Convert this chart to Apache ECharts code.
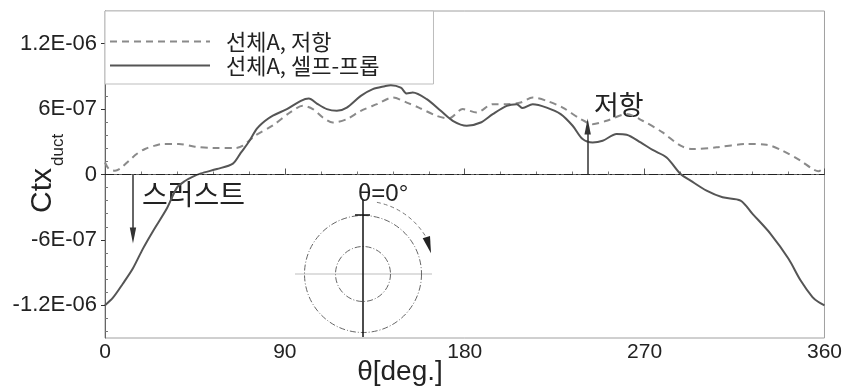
<!DOCTYPE html>
<html>
<head>
<meta charset="utf-8">
<script src="https://cdn.jsdelivr.net/npm/echarts@6/dist/echarts.min.js"></script>
<style>
  html, body { margin: 0; padding: 0; background: #fff; }
  #chart { width: 845px; height: 388px; }
</style>
</head>
<body>
<div id="chart"></div>
<script>
// Duct thrust coefficient around the circumference (theta in degrees)
const angleResist = [0, 2, 5, 8, 12, 16, 20, 25, 29, 37, 45, 54, 65, 69, 75, 84, 93, 99, 104, 109, 114, 121, 128, 136, 144, 151, 157, 166, 172, 179, 186, 194, 201, 208, 214, 221, 229, 238, 244, 251, 261, 269, 279, 288, 294, 306, 321, 331, 339, 348, 354, 357, 360];
const ctxResist = [1.1e-7, 5.0e-8, 3.5e-8, 6.0e-8, 1.27e-7, 1.9e-7, 2.34e-7, 2.65e-7, 2.8e-7, 2.8e-7, 2.55e-7, 2.43e-7, 2.43e-7, 2.64e-7, 3.55e-7, 4.5e-7, 5.75e-7, 6.3e-7, 6.0e-7, 5.23e-7, 4.77e-7, 5.08e-7, 5.84e-7, 6.45e-7, 7.06e-7, 6.6e-7, 6.14e-7, 5.38e-7, 5.15e-7, 6.0e-7, 5.69e-7, 6.45e-7, 6.45e-7, 6.6e-7, 7.06e-7, 6.76e-7, 6.14e-7, 5.08e-7, 4.62e-7, 4.93e-7, 5.54e-7, 4.93e-7, 3.86e-7, 2.64e-7, 2.34e-7, 2.49e-7, 2.8e-7, 2.73e-7, 2.18e-7, 1.27e-7, 5.1e-8, 3.0e-8, 7.0e-8];

const angleSelf = [0, 4, 9, 14, 19, 24, 31, 36, 40, 44, 48, 56, 64, 68, 72, 76, 80, 84, 91, 98, 102, 106, 111, 116, 121, 128, 134, 140, 143, 148, 151, 154, 161, 168, 174, 181, 188, 194, 201, 206, 209, 214, 221, 228, 234, 239, 244, 249, 256, 261, 268, 274, 281, 288, 293, 301, 309, 318, 324, 333, 342, 348, 354, 357, 360];
const ctxSelf = [-1.2e-6, -1.13e-6, -1.0e-6, -8.6e-7, -6.8e-7, -5.2e-7, -3.1e-7, -1.2e-7, -6.0e-8, -2.0e-8, 1.0e-8, 5.0e-8, 1.0e-7, 2.0e-7, 3.0e-7, 4.2e-7, 4.9e-7, 5.4e-7, 6.0e-7, 6.76e-7, 6.97e-7, 6.51e-7, 6.0e-7, 5.84e-7, 6.14e-7, 7.21e-7, 7.83e-7, 8.1e-7, 8.19e-7, 7.97e-7, 7.43e-7, 7.52e-7, 6.91e-7, 5.84e-7, 4.93e-7, 4.47e-7, 4.77e-7, 5.54e-7, 6.3e-7, 6.45e-7, 6.09e-7, 6.45e-7, 6.14e-7, 5.54e-7, 4.47e-7, 3.25e-7, 2.94e-7, 3.1e-7, 3.71e-7, 3.65e-7, 2.94e-7, 2.25e-7, 1.57e-7, 5.0e-9, -5.6e-8, -1.48e-7, -2.09e-7, -2.39e-7, -3.61e-7, -5.44e-7, -7.73e-7, -9.7e-7, -1.124e-6, -1.17e-6, -1.2e-6];

const seriesNames = ['선체A, 저항', '선체A, 셀프-프롭'];
const xTickValues = [0, 90, 180, 270, 360];
const yTickValues = [-1.2e-6, -6e-7, 0, 6e-7, 1.2e-6];

// Annotation arrows: [theta, from, to]
const thrustArrow = [14, 0, -5.6e-7];
const resistArrow = [241.5, 0, 4.4e-7];

const FONT = 'Liberation Sans, Arial, sans-serif';
const KFONT = 'Noto Sans CJK KR, sans-serif';

// minor y ticks every 1.2E-07, skipping the labelled ones
const yMinor = [];
for (let k = -12; k <= 12; k++) {
  if (k % 5 !== 0) yMinor.push(k * 1.2e-7);
}

function sciLabel(v) {
  if (Math.abs(v) < 1e-12) return '0';
  const s = v.toExponential();
  return s.replace(/e([+-])(\d+)$/, function (m, sign, d) {
    return 'E' + sign + (d.length < 2 ? '0' + d : d);
  });
}

function pairs(xs, ys) {
  return xs.map(function (x, i) { return [x, ys[i]]; });
}

const arrowHead = 'path://M3,0 L6,15 L0,15 Z';

const chart = echarts.init(document.getElementById('chart'), null, { renderer: 'canvas' });

const option = {
  animation: false,
  backgroundColor: '#fff',
  grid: {
    left: 105, right: 20, top: 11, bottom: 50,
    show: true, borderColor: '#a0a0a0', borderWidth: 1, backgroundColor: 'transparent'
  },
  legend: {
    orient: 'vertical',
    left: 105, top: 11,
    backgroundColor: '#fff',
    borderColor: '#bdbdbd', borderWidth: 1, borderRadius: 0,
    padding: [19, 54, 7, 4],
    itemGap: 1,
    itemWidth: 100, itemHeight: 14,
    itemStyle: { opacity: 0 },
    data: seriesNames,
    textStyle: { fontFamily: KFONT, fontSize: 22, color: '#222', padding: [0, 0, 0, 11], lineHeight: 23 }
  },
  xAxis: {
    type: 'value', min: 0, max: 360, interval: 90,
    axisLine: { show: true, lineStyle: { color: '#666', width: 1 } },
    axisTick: { show: true, inside: true, length: 6, lineStyle: { color: '#555' } },
    minorTick: { show: true, splitNumber: 5, length: 3, lineStyle: { color: '#777' } },
    splitLine: { show: false },
    axisLabel: { fontFamily: FONT, fontSize: 21, color: '#222', margin: 4, customValues: xTickValues }
  },
  yAxis: [{
    type: 'value', min: -1.5e-6, max: 1.5e-6, interval: 3e-7,
    axisLine: { show: true, lineStyle: { color: '#666', width: 1 } },
    axisTick: { show: true, length: 4, lineStyle: { color: '#333' }, customValues: yTickValues },
    splitLine: { show: false },
    axisLabel: { fontFamily: FONT, fontSize: 22, color: '#222', margin: 8, customValues: yTickValues, formatter: sciLabel }
  }, {
    type: 'value', min: -1.5e-6, max: 1.5e-6, interval: 3e-7, position: 'left',
    axisLine: { show: false },
    axisTick: { show: true, inside: true, length: 3, lineStyle: { color: '#777' }, customValues: yMinor },
    splitLine: { show: false },
    axisLabel: { show: false }
  }],
  series: [{
    name: seriesNames[0],
    type: 'line',
    data: pairs(angleResist, ctxResist),
    smooth: 0.3,
    symbol: 'none',
    lineStyle: { color: '#8a8a8a', width: 2, type: [7, 5] },
    itemStyle: { color: '#8a8a8a' },
    z: 3,
    markLine: {
      silent: true,
      symbol: 'none',
      label: { show: false },
      lineStyle: { color: '#222', width: 1, type: [9, 3, 2, 3] },
      data: [{ yAxis: 0 }]
    }
  }, {
    name: seriesNames[1],
    type: 'line',
    data: pairs(angleSelf, ctxSelf),
    smooth: 0.3,
    symbol: 'none',
    lineStyle: { color: '#555', width: 2, type: 'solid' },
    itemStyle: { color: '#555' },
    z: 4,
    markLine: {
      silent: true,
      symbol: ['none', arrowHead],
      symbolSize: 16,
      symbolKeepAspect: true,
      label: { show: false },
      lineStyle: { color: '#333', width: 1.5, type: 'solid' },
      itemStyle: { color: '#222' },
      data: [
        [{ coord: [thrustArrow[0], thrustArrow[1]] }, { coord: [thrustArrow[0], thrustArrow[2]] }],
        [{ coord: [resistArrow[0], resistArrow[1]] }, { coord: [resistArrow[0], resistArrow[2]] }]
      ]
    }
  }],
  graphic: [
    // y axis title Ctx_duct, rotated to read bottom-up
    {
      type: 'group', x: 28, y: 213, rotation: Math.PI / 2,
      children: [
        { type: 'text', x: 0, y: 0, style: { text: 'Ctx', font: '30px ' + FONT, fill: '#222', verticalAlign: 'top' } },
        { type: 'text', x: 47, y: 22, style: { text: 'duct', font: '17px ' + FONT, fill: '#222', verticalAlign: 'top' } }
      ]
    },
    // x axis title
    { type: 'text', x: 400, y: 358, style: { text: 'θ[deg.]', font: '28px ' + FONT, fill: '#222', align: 'center', verticalAlign: 'top' } },
    // annotation texts
    { type: 'text', x: 142, y: 180, style: { text: '스러스트', font: '28px ' + KFONT, fill: '#222', verticalAlign: 'top' } },
    { type: 'text', x: 594, y: 91, style: { text: '저항', font: '27px ' + KFONT, fill: '#222', verticalAlign: 'top' } },
    // propeller-plane sketch with angle convention
    {
      type: 'group', x: 363, y: 274, z: 5,
      children: [
        { type: 'line', shape: { x1: -68, y1: 0, x2: 69, y2: 0 }, style: { stroke: '#bdbdbd', lineWidth: 1 } },
        { type: 'circle', shape: { cx: 0, cy: 0, r: 58.5 }, style: { fill: 'none', stroke: '#666', lineWidth: 1, lineDash: [6, 2, 1, 2] } },
        { type: 'circle', shape: { cx: 0, cy: 0, r: 27.5 }, style: { fill: 'none', stroke: '#666', lineWidth: 1, lineDash: [6, 2, 1, 2] } },
        { type: 'line', shape: { x1: 0, y1: -74, x2: 0, y2: 63 }, style: { stroke: '#111', lineWidth: 1.5 } },
        { type: 'line', shape: { x1: -8, y1: -59, x2: 7, y2: -59 }, style: { stroke: '#111', lineWidth: 1.5 } },
        { type: 'arc', shape: { cx: 0, cy: 0, r: 73, startAngle: -79 * Math.PI / 180, endAngle: -30 * Math.PI / 180, clockwise: true }, style: { fill: 'none', stroke: '#777', lineWidth: 1, lineDash: [4, 3] } },
        { type: 'polygon', shape: { points: [[59.7, -35.7], [67, -38], [68, -20.7]] }, style: { fill: '#222' } },
        { type: 'text', x: -5, y: -92, style: { text: 'θ=0°', font: '24px ' + FONT, fill: '#222', verticalAlign: 'top' } }
      ]
    }
  ]
};

chart.setOption(option);
</script>
</body>
</html>
